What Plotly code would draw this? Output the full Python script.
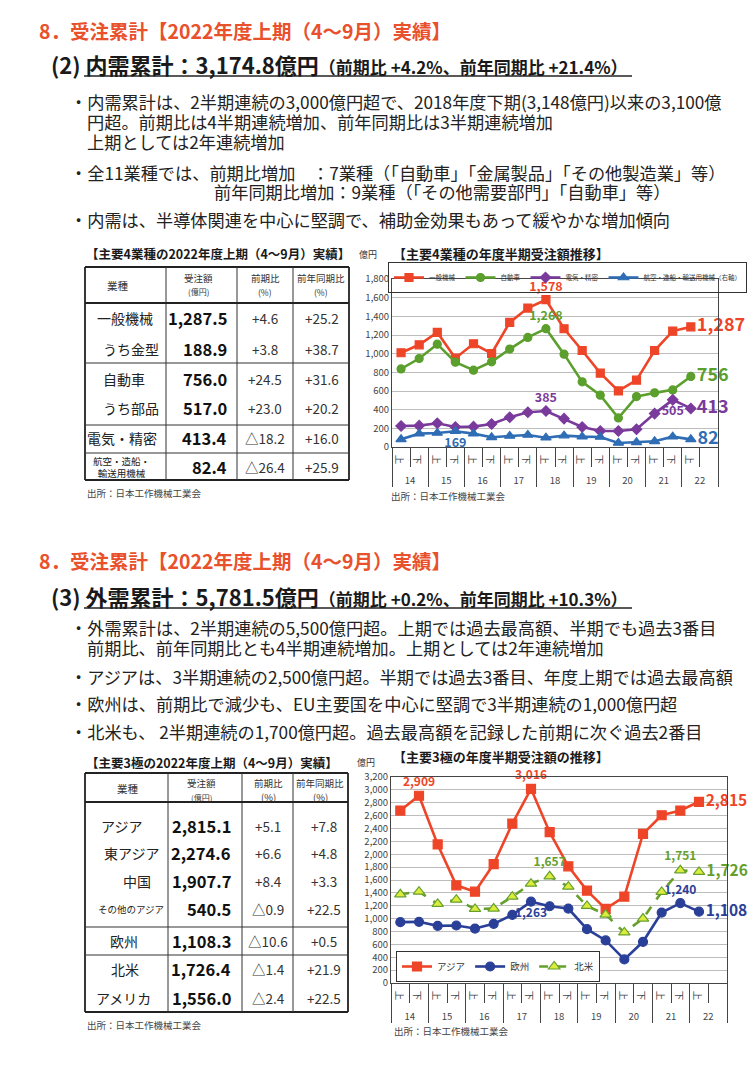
import plotly.graph_objects as go

FONT = "Noto Sans CJK JP"
W, H = 750, 1070

# ---------------- data ----------------
years = ["14", "14", "15", "15", "16", "16", "17", "17", "18", "18",
         "19", "19", "20", "20", "21", "21", "22", "22"]
halves = ["上", "下"] * 8 + ["上", " "]

# 主要4業種 (億円) ; 22下 is not yet available
ippan = [1010, 1095, 1228, 952, 1106, 1002, 1335, 1489, 1578, 1267, 1034, 791, 601, 716, 1034, 1242, 1287, None]
jidosha = [837, 948, 1102, 909, 823, 913, 1049, 1174, 1268, 995, 698, 555, 311, 540, 580, 612, 756, None]
denki = [225, 229, 254, 215, 218, 247, 319, 372, 385, 304, 215, 172, 172, 190, 358, 505, 413, None]
koku = [82, 143, 150, 169, 143, 104, 118, 129, 100, 122, 111, 107, 43, 50, 61, 111, 82, None]

# 主要3極 (億円)
asia = [2679, 2909, 2152, 1517, 1419, 1848, 2477, 3016, 2343, 1812, 1435, 1151, 1342, 2317, 2606, 2679, 2815, None]
europe = [945, 950, 888, 893, 846, 919, 1058, 1263, 1192, 1156, 836, 661, 366, 640, 1094, 1240, 1108, None]
namerica = [1378, 1419, 1228, 1295, 1151, 1156, 1342, 1543, 1657, 1497, 1197, 1063, 785, 1001, 1414, 1751, 1726, None]

# table 1
t1_names = ["一般機械", "うち金型", "自動車", "うち部品", "電気・精密", "航空・造船・<br>輸送用機械"]
t1_values = [1287.5, 188.9, 756.0, 517.0, 413.4, 82.4]
t1_prev = [4.6, 3.8, 24.5, 23.0, -18.2, -26.4]
t1_yoy = [25.2, 38.7, 31.6, 20.2, 16.0, 25.9]

# table 2
t2_names = ["アジア", "東アジア", "中国", "その他のアジア", "欧州", "北米", "アメリカ"]
t2_values = [2815.1, 2274.6, 1907.7, 540.5, 1108.3, 1726.4, 1556.0]
t2_prev = [5.1, 6.6, 8.4, -0.9, -10.6, -1.4, -2.4]
t2_yoy = [7.8, 4.8, 3.3, 22.5, 0.5, 21.9, 22.5]

# ---------------- helpers ----------------
annotations = []
shapes = []


def txt(x, y, s, size, color="#222", anchor="left", bold=False):
    if bold:
        s = f"<b>{s}</b>"
    annotations.append(dict(x=x / W, y=1 - y / H, xref="paper", yref="paper", text=s,
                            showarrow=False, xanchor=anchor, yanchor="middle",
                            font=dict(size=size, color=color, family=FONT)))


def line(x0, y0, x1, y1, w=1.0, color="#333"):
    shapes.append(dict(type="line", xref="paper", yref="paper",
                       x0=x0 / W, x1=x1 / W, y0=1 - y0 / H, y1=1 - y1 / H,
                       line=dict(color=color, width=w)))


def pct(v):
    return ("+" if v >= 0 else "△") + f"{abs(v):.1f}"


def series(vals, name, color, symbol, labels, xa, ya, leg, msize=8, dash="solid",
           mfill=None, small=12.5, big=18):
    last = max(i for i, v in enumerate(vals) if v is not None)
    text, pos, sizes = [], [], []
    for i, v in enumerate(vals):
        if i in labels:
            text.append(f"<b>{v:,}</b>"); pos.append(labels[i]); sizes.append(small)
        elif i == last:
            text.append(f"<b>{v:,}</b>"); pos.append("middle right"); sizes.append(big)
        else:
            text.append(""); pos.append("top center"); sizes.append(small)
    return go.Scatter(
        x=[years, halves], y=vals, name=name, mode="lines+markers+text",
        line=dict(color=color, width=2.6, dash=dash),
        marker=dict(symbol=symbol, size=msize, color=mfill or color,
                    line=dict(color=color, width=1.2)),
        text=text, textposition=pos,
        textfont=dict(color=color, size=sizes, family=FONT),
        cliponaxis=False, xaxis=xa, yaxis=ya, legend=leg, hoverinfo="skip",
        connectgaps=False)


fig = go.Figure()

# ---------------- chart 1 ----------------
C_RED, C_GREEN, C_PURPLE, C_BLUE = "#ee4528", "#5b9f2d", "#7a3a9c", "#2f6db5"
fig.add_trace(series(ippan, "一般機械", C_RED, "square", {8: "top center"}, "x", "y", "legend"))
fig.add_trace(series(jidosha, "自動車", C_GREEN, "circle", {8: "top center"}, "x", "y", "legend"))
fig.add_trace(series(denki, "電気・精密", C_PURPLE, "diamond", {8: "top center", 15: "bottom center"},
                     "x", "y", "legend"))
fig.add_trace(series(koku, "航空・造船・輸送用機械（右軸）", C_BLUE, "triangle-up", {3: "bottom center"},
                     "x", "y", "legend", msize=9))

# ---------------- chart 2 ----------------
C_NAVY, C_LG = "#2a3f98", "#66a02c"
fig.add_trace(series(asia, "アジア", C_RED, "square", {1: "top center", 7: "top center"},
                     "x2", "y2", "legend2", msize=9, small=12, big=15.5))
fig.add_trace(series(europe, "欧州", C_NAVY, "circle", {7: "bottom center", 15: "top center"},
                     "x2", "y2", "legend2", msize=9, small=12, big=15.5))
fig.add_trace(series(namerica, "北米", C_LG, "triangle-up", {8: "top center", 15: "top center"},
                     "x2", "y2", "legend2", msize=10, dash="dash", mfill="#dcec3c", small=12, big=15.5))

axis_x = dict(type="multicategory", showgrid=False, ticks="outside", tickson="boundaries",
              ticklen=19, tickcolor="#444", showdividers=True, dividercolor="#444",
              dividerwidth=1, tickfont=dict(size=9.5, color="#444", family=FONT),
              showline=True, linecolor="#444", linewidth=1, mirror=True,
              range=[-0.5, 17.5], fixedrange=True)
axis_y = dict(showgrid=True, gridcolor="#bdbdbd", gridwidth=1, showline=True,
              linecolor="#444", linewidth=1, mirror=True, zeroline=False,
              tickformat=",", tickfont=dict(size=9.5, color="#444", family=FONT),
              ticks="", fixedrange=True)

fig.update_layout(
    xaxis=dict(axis_x, domain=[392 / W, 718 / W], anchor="y"),
    yaxis=dict(axis_y, domain=[1 - 447 / H, 1 - 279 / H], range=[0, 1800], dtick=200, anchor="x"),
    xaxis2=dict(axis_x, domain=[391 / W, 727 / W], anchor="y2"),
    yaxis2=dict(axis_y, domain=[1 - 983 / H, 1 - 777 / H], range=[0, 3200], dtick=200, anchor="x2"),
    legend=dict(x=388 / W, y=1 - 262 / H, xanchor="left", yanchor="top", orientation="h",
                bordercolor="#333", borderwidth=1, bgcolor="rgba(255,255,255,0)",
                font=dict(size=6.5, color="#333", family=FONT), itemwidth=30,
                tracegroupgap=0),
    legend2=dict(x=396 / W, y=1 - 951 / H, xanchor="left", yanchor="top", orientation="h",
                 bordercolor="#333", borderwidth=1, bgcolor="white",
                 font=dict(size=9.5, color="#333", family=FONT), itemwidth=30),
)

# ---------------- text blocks ----------------
RED_T = "#e9502c"
txt(37, 30, "8．受注累計【2022年度上期（4～9月）実績】", 19.5, RED_T, bold=True)
txt(49, 64, "(2) 内需累計：3,174.8億円<span style='font-size:17px'>（前期比 +4.2%、前年同期比 +21.4%）</span>",
    22, "#1a1a1a", bold=True)
line(84, 76, 632, 76, 1.3, "#222")
BS = 17.2
txt(68, 101, "・内需累計は、2半期連続の3,000億円超で、2018年度下期(3,148億円)以来の3,100億", BS)
txt(85, 121, "円超。前期比は4半期連続増加、前年同期比は3半期連続増加", BS)
txt(85, 141, "上期としては2年連続増加", BS)
txt(68, 172, "・全11業種では、前期比増加", BS)
txt(310, 172, "：7業種（「自動車」「金属製品」「その他製造業」等）", BS)
txt(212, 191, "前年同期比増加：9業種（「その他需要部門」「自動車」等）", BS)
txt(68, 219, "・内需は、半導体関連を中心に堅調で、補助金効果もあって緩やかな増加傾向", BS)

txt(37, 560, "8．受注累計【2022年度上期（4～9月）実績】", 19.5, RED_T, bold=True)
txt(49, 596, "(3) 外需累計：5,781.5億円<span style='font-size:17px'>（前期比 +0.2%、前年同期比 +10.3%）</span>",
    22, "#1a1a1a", bold=True)
line(84, 608, 632, 608, 1.3, "#222")
txt(68, 627, "・外需累計は、2半期連続の5,500億円超。上期では過去最高額、半期でも過去3番目", BS)
txt(85, 647, "前期比、前年同期比とも4半期連続増加。上期としては2年連続増加", BS)
txt(68, 676, "・アジアは、3半期連続の2,500億円超。半期では過去3番目、年度上期では過去最高額", BS)
txt(68, 703, "・欧州は、前期比で減少も、EU主要国を中心に堅調で3半期連続の1,000億円超", BS)
txt(68, 731, "・北米も、 2半期連続の1,700億円超。過去最高額を記録した前期に次ぐ過去2番目", BS)

# chart titles & units
txt(84, 254, "【主要4業種の2022年度上期（4～9月）実績】", 12.5, "#1a1a1a", bold=True)
txt(357, 255, "億円", 9, "#333")
txt(391, 254, "【主要4業種の年度半期受注額推移】", 13, "#1a1a1a", bold=True)
txt(85, 493, "出所：日本工作機械工業会", 9.5, "#444")
txt(389, 496, "出所：日本工作機械工業会", 9.5, "#444")

txt(84, 762, "【主要3極の2022年度上期（4～9月）実績】", 12.5, "#1a1a1a", bold=True)
txt(355, 762, "億円", 9, "#333")
txt(391, 756, "【主要3極の年度半期受注額の推移】", 13, "#1a1a1a", bold=True)
txt(85, 1025, "出所：日本工作機械工業会", 9.5, "#444")
txt(392, 1031, "出所：日本工作機械工業会", 9.5, "#444")

# ---------------- table 1 ----------------
X0, X1, Y0, Y1 = 85, 349, 267, 480
for (a, b, c, d) in [(X0, Y0, X1, Y0), (X0, Y1, X1, Y1), (X0, Y0, X0, Y1), (X1, Y0, X1, Y1)]:
    line(a, b, c, d, 1.8, "#222")
for xv in [166, 237, 293]:
    line(xv, Y0, xv, Y1, 1, "#333")
line(X0, 303, X1, 303, 1.8, "#222")
for yv in [363, 425, 453]:
    line(X0, yv, X1, yv, 1, "#333")
txt(118, 285, "業種", 10.5, "#333", "center")
for cx, t in [(199, "受注額"), (265, "前期比"), (321, "前年同期比")]:
    txt(cx, 278, t, 9.5, "#333", "center")
txt(199, 292, "(億円)", 8, "#333", "center")
txt(265, 292, "(%)", 8.5, "#333", "center")
txt(321, 292, "(%)", 8.5, "#333", "center")
t1_rows = [318, 349, 379, 408, 438, 467]
t1_lab = [(125, "center", 14), (161, "right", 14), (124, "center", 14), (161, "right", 14),
          (122, "center", 14), (122, "center", 9.5)]
for i, yv in enumerate(t1_rows):
    lx, la, ls = t1_lab[i]
    txt(lx, yv, t1_names[i], ls, "#222", la)
    txt(229, yv, f"{t1_values[i]:,.1f}", 16.5, "#111", "right", bold=True)
    txt(265, yv, pct(t1_prev[i]), 13.5, "#333", "center")
    txt(322, yv, pct(t1_yoy[i]), 13.5, "#333", "center")

# ---------------- table 2 ----------------
X0, X1, Y0, Y1 = 85, 348, 773, 1012
for (a, b, c, d) in [(X0, Y0, X1, Y0), (X0, Y1, X1, Y1), (X0, Y0, X0, Y1), (X1, Y0, X1, Y1)]:
    line(a, b, c, d, 1.8, "#222")
for xv in [168, 242, 293]:
    line(xv, Y0, xv, Y1, 1, "#333")
line(X0, 802, X1, 802, 1.8, "#222")
for yv in [927, 955]:
    line(X0, yv, X1, yv, 1, "#333")
txt(128, 788, "業種", 10.5, "#333", "center")
for cx, t in [(201, "受注額"), (268, "前期比"), (320, "前年同期比")]:
    txt(cx, 783, t, 9.5, "#333", "center")
txt(201, 797, "(億円)", 8, "#333", "center")
txt(268, 797, "(%)", 9.5, "#333", "center")
txt(320, 797, "(%)", 9.5, "#333", "center")
t2_rows = [826, 853, 881, 909, 941, 969, 998]
t2_lab = [(122, 14), (131, 14), (137, 14), (131, 9.5), (124, 14), (125, 14), (123, 14)]
for i, yv in enumerate(t2_rows):
    lx, ls = t2_lab[i]
    txt(lx, yv, t2_names[i], ls, "#222", "center")
    txt(233, yv, f"{t2_values[i]:,.1f}", 16.5, "#111", "right", bold=True)
    txt(268, yv, pct(t2_prev[i]), 13.5, "#333", "center")
    txt(324, yv, pct(t2_yoy[i]), 13.5, "#333", "center")

fig.update_layout(
    width=W, height=H, margin=dict(l=0, r=0, t=0, b=0, autoexpand=False),
    paper_bgcolor="white", plot_bgcolor="white",
    font=dict(family=FONT, color="#222"),
    annotations=annotations, shapes=shapes, hovermode=False,
)

fig.write_html("out.html", config={"displayModeBar": False},
               post_script="document.body.style.margin='0';")
